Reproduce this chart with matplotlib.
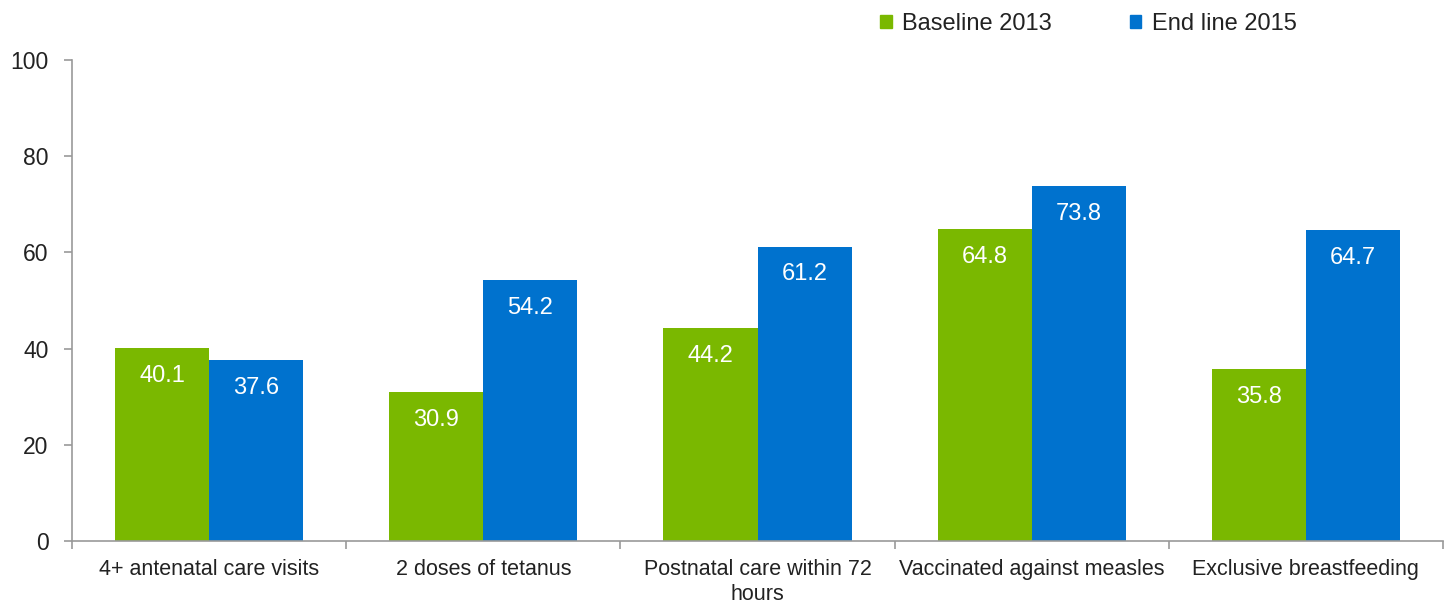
import matplotlib
matplotlib.use('agg')
import matplotlib.pyplot as plt
from matplotlib.patches import Patch
import numpy as np

categories = ["4+ antenatal care visits", "2 doses of tetanus",
              "Postnatal care within 72\nhours", "Vaccinated against measles",
              "Exclusive breastfeeding"]
baseline_2013 = [40.1, 30.9, 44.2, 64.8, 35.8]
endline_2015 = [37.6, 54.2, 61.2, 73.8, 64.7]
y_ticks = [0, 20, 40, 60, 80, 100]

GREEN = '#7AB800'
BLUE = '#0072CE'
AXIS = '#999999'
TEXT = '#222222'

plt.rcParams['font.family'] = ['Liberation Sans', 'DejaVu Sans']

fig = plt.figure(figsize=(14.49, 6.05), dpi=100)
ax = fig.add_axes([72/1449, 64/605, 1371/1449, 481/605])

x = np.arange(len(categories))
w = 0.343
b1 = ax.bar(x - w/2, baseline_2013, w, color=GREEN)
b2 = ax.bar(x + w/2, endline_2015, w, color=BLUE)

for bars, vals in ((b1, baseline_2013), (b2, endline_2015)):
    for rect, v in zip(bars, vals):
        ax.annotate(f"{v:.1f}", (rect.get_x() + rect.get_width()/2, v),
                    xytext=(0, -20), textcoords='offset points',
                    ha='center', va='center', color='white', fontsize=17)

ax.set_xlim(-0.5, len(categories) - 0.5)
ax.set_ylim(0, 100)
ax.set_yticks(y_ticks)
ax.tick_params(axis='y', length=6, width=1.2, color=AXIS, labelsize=16.5,
               labelcolor=TEXT, pad=11)

# category boundaries get the tick marks, names sit between them
ax.set_xticks(np.arange(len(categories) + 1) - 0.5)
ax.set_xticklabels([])
ax.set_xticks(x, minor=True)
ax.set_xticklabels(categories, minor=True, linespacing=1.22)
ax.tick_params(axis='x', which='major', length=6, width=1.2, color=AXIS)
ax.tick_params(axis='x', which='minor', length=0, labelsize=15.5,
               labelcolor=TEXT, pad=13)

for s in ('top', 'right'):
    ax.spines[s].set_visible(False)
for s in ('left', 'bottom'):
    ax.spines[s].set_color(AXIS)
    ax.spines[s].set_linewidth(1.2)

handles = [Patch(color=GREEN, label='Baseline 2013'),
           Patch(color=BLUE, label='End line 2015')]
fig.legend(handles=handles, ncol=2, frameon=False, fontsize=17,
           loc='center left', bbox_to_anchor=(859/1449, 1 - 24/605),
           handlelength=0.48, handleheight=0.48, handletextpad=0.45,
           columnspacing=3.3, labelcolor=TEXT)

fig.savefig('out.png', dpi=100)
